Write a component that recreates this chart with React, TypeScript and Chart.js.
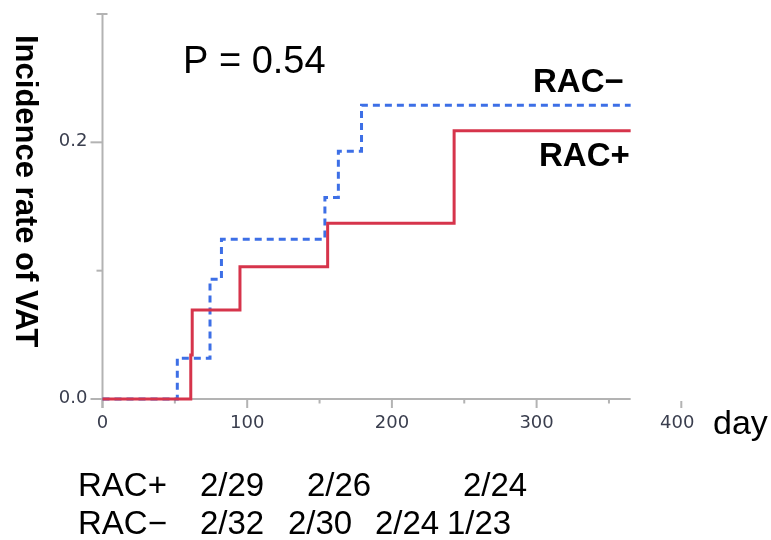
import React, { useEffect, useRef } from "react";
import { Chart, registerables } from "chart.js";

Chart.register(...registerables);

// ---- data ----
const racPlusDays = [0, 61, 62, 95, 155.6, 243, 365];
const racPlusRate = [0, 0.0342, 0.0693, 0.103, 0.137, 0.209, 0.209];
const racMinusDays = [0, 51.7, 74.3, 82.2, 153.7, 163, 179, 365];
const racMinusRate = [0, 0.0317, 0.0934, 0.1245, 0.157, 0.193, 0.2288, 0.2288];

const xMajorTicks = [0, 100, 200, 300, 400];
const xMinorTicks = [50, 150, 250, 350];
const yMajorTicks = [0, 0.2];
const yMinorTicks = [0.1, 0.3];
const xAxisEnd = 365;

const seriesNames = ["RAC+", "RAC\u2212"];
const riskPlus = ["2/29", "2/26", "2/24"];
const riskMinus = ["2/32", "2/30", "2/24", "1/23"];
const pValueText = "P = 0.54";
const yTitle = "Incidence rate of VAT";
const xTitle = "day";

// ---- layout constants ----
const W = 771;
const H = 540;
const riskPlusX = [200, 307, 463];
const riskMinusX = [200, 288, 375, 447];

const RED = "#d6344b";
const BLUE = "#3d6fe6";
const AXIS = "#b3b3b3";
const TICKTXT = "#3a3e4e";

const toPts = (xs: number[], ys: number[]) => xs.map((x, i) => ({ x, y: ys[i] }));

const decorPlugin = {
  id: "decor",
  beforeDatasetsDraw(chart: any) {
    const { ctx, scales } = chart;
    const xs = scales.x;
    const ys = scales.y;
    const x0 = xs.getPixelForValue(0);
    const y0 = ys.getPixelForValue(0);
    ctx.save();
    ctx.strokeStyle = AXIS;
    ctx.lineWidth = 2;
    // y axis line
    ctx.beginPath();
    ctx.moveTo(x0, ys.getPixelForValue(0.3));
    ctx.lineTo(x0, y0 + 9);
    ctx.stroke();
    // x axis line
    ctx.beginPath();
    ctx.moveTo(x0, y0);
    ctx.lineTo(xs.getPixelForValue(xAxisEnd), y0);
    ctx.stroke();
    // x ticks
    xMajorTicks.forEach((v) => {
      const px = xs.getPixelForValue(v);
      ctx.beginPath();
      ctx.moveTo(px, v > xAxisEnd ? y0 + 2 : y0);
      ctx.lineTo(px, y0 + 9);
      ctx.stroke();
    });
    xMinorTicks.forEach((v) => {
      const px = xs.getPixelForValue(v);
      ctx.beginPath();
      ctx.moveTo(px, y0);
      ctx.lineTo(px, y0 + 4.5);
      ctx.stroke();
    });
    // y ticks
    yMajorTicks.forEach((v) => {
      const py = ys.getPixelForValue(v);
      ctx.beginPath();
      ctx.moveTo(x0 - 12, py);
      ctx.lineTo(x0, py);
      ctx.stroke();
    });
    yMinorTicks.forEach((v) => {
      const py = ys.getPixelForValue(v);
      ctx.beginPath();
      ctx.moveTo(x0 - 6, py);
      ctx.lineTo(v >= 0.3 ? x0 + 5 : x0, py);
      ctx.stroke();
    });
    // tick labels
    ctx.fillStyle = TICKTXT;
    ctx.font = "18px 'DejaVu Sans', sans-serif";
    ctx.textAlign = "center";
    ctx.textBaseline = "middle";
    xMajorTicks.forEach((v) => {
      const px = xs.getPixelForValue(v);
      ctx.fillText(String(v), px - (v === 400 ? 4 : 0), y0 + 24);
    });
    ctx.textAlign = "right";
    yMajorTicks.forEach((v) => {
      const py = ys.getPixelForValue(v);
      ctx.fillText(v.toFixed(1), x0 - 15, py - 1);
    });
    ctx.restore();
  },
  afterDraw(chart: any) {
    const { ctx } = chart;
    ctx.save();
    ctx.fillStyle = "#000";
    ctx.textBaseline = "alphabetic";
    ctx.textAlign = "left";
    // y title
    ctx.save();
    ctx.translate(16, 35);
    ctx.rotate(Math.PI / 2);
    ctx.font = "bold 31px 'Liberation Sans', Arial, sans-serif";
    ctx.fillText(yTitle, 0, 0);
    ctx.restore();
    // P value
    ctx.font = "38px 'Liberation Sans', Arial, sans-serif";
    ctx.fillText(pValueText, 183, 73);
    // series labels
    ctx.font = "bold 33px 'Liberation Sans', Arial, sans-serif";
    ctx.fillText(seriesNames[1], 533, 92);
    ctx.fillText(seriesNames[0], 539, 166);
    // x title
    ctx.font = "34px 'Liberation Sans', Arial, sans-serif";
    ctx.fillText(xTitle, 713, 434);
    // numbers at risk
    ctx.font = "33px 'Liberation Sans', Arial, sans-serif";
    ctx.fillText(seriesNames[0], 78, 496);
    ctx.fillText(seriesNames[1], 78, 534);
    riskPlus.forEach((t, i) => ctx.fillText(t, riskPlusX[i], 496));
    riskMinus.forEach((t, i) => ctx.fillText(t, riskMinusX[i], 534));
    ctx.restore();
  },
};

export default function App() {
  const ref = useRef<HTMLCanvasElement>(null);
  useEffect(() => {
    if (!ref.current) return;
    const chart = new Chart(ref.current, {
      type: "line",
      data: {
        datasets: [
          {
            label: seriesNames[0],
            data: toPts(racPlusDays, racPlusRate),
            borderColor: RED,
            borderWidth: 3,
            stepped: true,
            pointRadius: 0,
            fill: false,
            clip: false as any,
          },
          {
            label: seriesNames[1],
            data: toPts(racMinusDays, racMinusRate),
            borderColor: BLUE,
            borderWidth: 3,
            borderDash: [7, 5],
            stepped: true,
            pointRadius: 0,
            fill: false,
            clip: false as any,
          },
        ],
      },
      options: {
        animation: false,
        responsive: false,
        devicePixelRatio: 1,
        layout: { padding: { left: 102.5, right: W - 681.3, top: 14, bottom: H - 399 } },
        plugins: { legend: { display: false }, tooltip: { enabled: false } },
        scales: {
          x: { type: "linear", min: 0, max: 400, display: false },
          y: { type: "linear", min: 0, max: 0.3, display: false },
        },
      },
      plugins: [decorPlugin],
    });
    return () => chart.destroy();
  }, []);
  return (
    <div style={{ position: "fixed", left: 0, top: 0, width: W, height: H, background: "#fff" }}>
      <canvas ref={ref} width={W} height={H} style={{ width: W, height: H, display: "block" }} />
    </div>
  );
}
